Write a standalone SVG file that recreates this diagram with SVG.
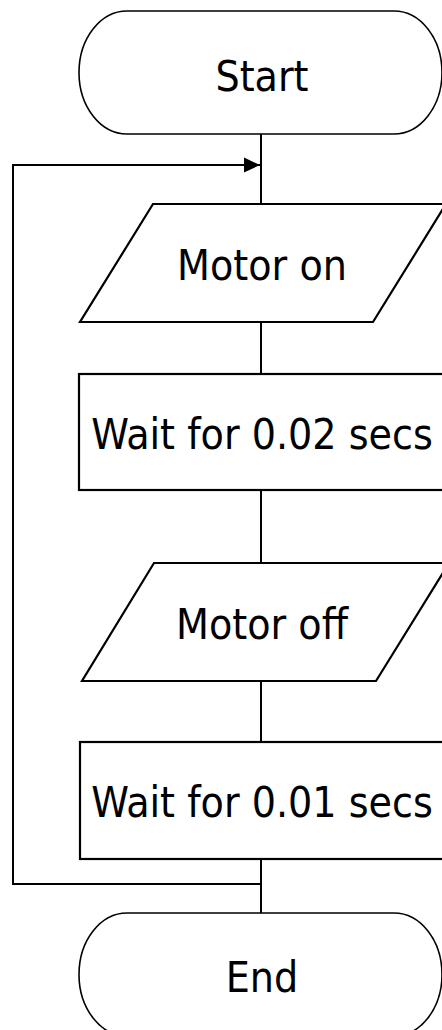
<svg xmlns="http://www.w3.org/2000/svg" width="442" height="1030" viewBox="0 0 442 1030">
<style>
.s{fill:#fff;stroke:#000;stroke-width:1.6}
.b{fill:#fff;stroke:#000;stroke-width:2.2}
.c{fill:none;stroke:#000;stroke-width:2}
text{font-family:"DejaVu Sans Condensed","DejaVu Sans","Liberation Sans",sans-serif;font-stretch:condensed;font-size:42.4px;fill:#000;text-anchor:middle}
</style>
<defs>
<marker id="ah" markerWidth="17" markerHeight="16" refX="16" refY="8" orient="auto" markerUnits="userSpaceOnUse">
<path d="M0,0.5 L16,8 L0,15.5 Z" fill="#000"/>
</marker>
</defs>
<rect width="442" height="1030" fill="#fff"/>
<g id="connectors">
<line class="c" x1="261" y1="134" x2="261" y2="204"/>
<path class="c" d="M261,884 L13,884 L13,165 L260,165" marker-end="url(#ah)"/>
<line class="c" x1="261" y1="322" x2="261" y2="374"/>
<line class="c" x1="261" y1="490" x2="261" y2="563"/>
<line class="c" x1="261" y1="681" x2="261" y2="742"/>
<line class="c" x1="261" y1="859" x2="261" y2="913"/>
</g>
<g id="start">
<rect class="s" x="79" y="11" width="363" height="123" rx="48" ry="61.5"/>
<text x="262" y="91">Start</text>
</g>
<g id="motor-on">
<polygon class="b" points="153,204 446,204 373,322 80,322"/>
<text x="262" y="280">Motor on</text>
</g>
<g id="wait-002">
<rect class="b" x="79" y="374" width="366" height="116"/>
<text x="262" y="449">Wait for 0.02 secs</text>
</g>
<g id="motor-off">
<polygon class="b" points="154,563 449,563 376,681 82,681"/>
<text x="262" y="639">Motor off</text>
</g>
<g id="wait-001">
<rect class="b" x="80" y="742" width="366" height="117"/>
<text x="262" y="817">Wait for 0.01 secs</text>
</g>
<g id="end">
<rect class="s" x="79" y="913" width="363" height="123" rx="48" ry="61.5"/>
<text x="262" y="992">End</text>
</g>
</svg>
